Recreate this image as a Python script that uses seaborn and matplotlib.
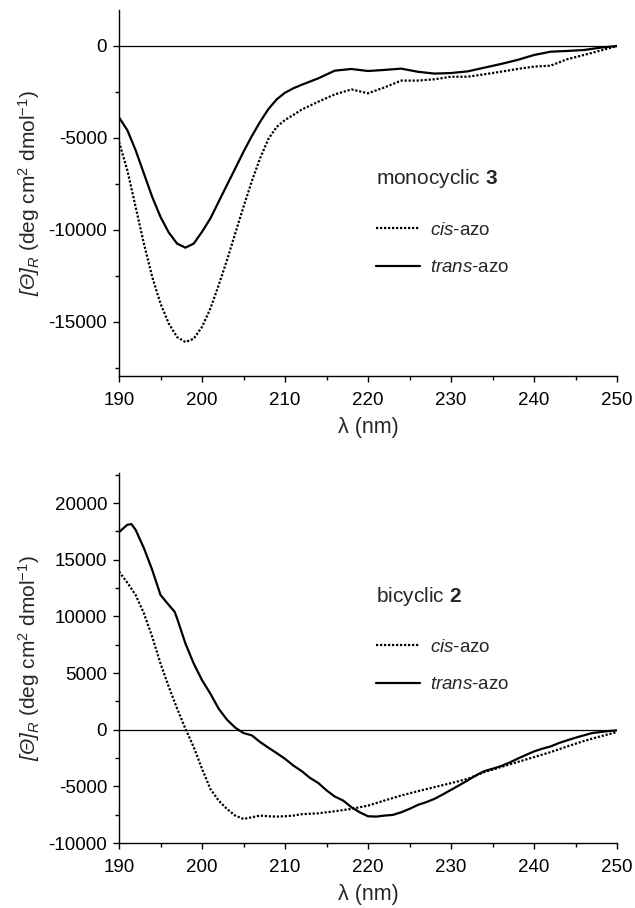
import numpy as np
import pandas as pd
import matplotlib
matplotlib.use("Agg")
import matplotlib.pyplot as plt
import seaborn as sns

# ---------------- data ----------------
# top panel: monocyclic 3
mono_trans_wl = [190, 191, 192, 193, 194, 195, 196, 197, 198, 199, 200, 201, 202, 203, 204, 205,
                 206, 207, 208, 209, 210, 211, 212, 214, 216, 218, 220, 222, 224, 226, 228, 230,
                 232, 234, 236, 238, 240, 242, 244, 246, 248, 250]
mono_trans_val = [-3880, -4570, -5660, -6930, -8200, -9290, -10140, -10740, -10960, -10740, -10100,
                  -9380, -8470, -7560, -6660, -5750, -4900, -4120, -3430, -2900, -2540, -2300, -2110,
                  -1760, -1340, -1250, -1360, -1300, -1230, -1400, -1500, -1470, -1380, -1180, -980,
                  -760, -490, -310, -270, -220, -90, 0]

mono_cis_wl = [190, 191, 192, 193, 194, 195, 196, 197, 198, 199, 200, 201, 202, 203, 204, 205,
               206, 207, 208, 209, 210, 211, 212, 214, 216, 218, 220, 222, 224, 226, 228, 230,
               232, 234, 236, 238, 240, 242, 244, 246, 248, 250]
mono_cis_val = [-5210, -6750, -8740, -10740, -12550, -14000, -15090, -15820, -16090, -15910, -15270,
                -14280, -13010, -11650, -10190, -8740, -7350, -6100, -5050, -4400, -4020, -3750, -3460,
                -3030, -2630, -2360, -2570, -2250, -1880, -1880, -1810, -1670, -1670, -1540, -1400,
                -1250, -1120, -1070, -720, -490, -250, 0]

# bottom panel: bicyclic 2
bi_trans_wl = [190, 191, 191.5, 192, 193, 194, 195, 196, 196.7, 197, 198, 199, 200, 201, 202, 203,
               204, 205, 206, 207, 208, 209, 210, 211, 212, 213, 214, 215, 216, 217, 218, 219, 220,
               221, 222, 223, 224, 225, 226, 227, 228, 229, 230, 231, 232, 233, 234, 235, 236, 237,
               238, 239, 240, 241, 242, 243, 244, 245, 246, 247, 248, 249, 250]
bi_trans_val = [17430, 18080, 18140, 17640, 16020, 14100, 11890, 11000, 10410, 9820, 7610, 5840, 4370,
                3190, 1860, 890, 180, -300, -500, -1090, -1590, -2070, -2570, -3160, -3650, -4250,
                -4700, -5350, -5900, -6250, -6840, -7290, -7640, -7670, -7580, -7520, -7290, -6990,
                -6640, -6400, -6110, -5720, -5310, -4900, -4480, -4040, -3660, -3450, -3220, -2920,
                -2570, -2240, -1920, -1680, -1480, -1180, -940, -710, -500, -300, -210, -120, -60]

bi_cis_wl = [190, 191, 192, 193, 194, 195, 196, 197, 198, 199, 200, 201, 202, 203, 204, 205, 206,
             207, 208, 209, 210, 211, 212, 214, 216, 218, 220, 222, 224, 226, 228, 230, 232, 234,
             236, 238, 240, 242, 244, 246, 248, 250]
bi_cis_val = [13950, 12980, 11890, 10270, 8200, 5840, 3780, 1860, 90, -1530, -3450, -5220, -6250,
              -6990, -7580, -7880, -7730, -7580, -7640, -7670, -7640, -7580, -7460, -7380, -7200,
              -6990, -6700, -6250, -5810, -5430, -5070, -4720, -4340, -3750, -3300, -2860, -2420,
              -1980, -1480, -1000, -590, -210]

x_ticks = [190, 200, 210, 220, 230, 240, 250]
top_yticks = [-15000, -10000, -5000, 0]
bot_yticks = [-10000, -5000, 0, 5000, 10000, 15000, 20000]

series_labels = [r"$\mathit{cis}$-azo", r"$\mathit{trans}$-azo"]
panel_titles = [r"monocyclic $\mathbf{3}$", r"bicyclic $\mathbf{2}$"]

# ---------------- style ----------------
sns.set_style("ticks")
plt.rcParams["font.family"] = ["Liberation Sans", "DejaVu Sans"]
plt.rcParams["mathtext.fontset"] = "custom"
plt.rcParams["mathtext.rm"] = "Liberation Sans"
plt.rcParams["mathtext.it"] = "Liberation Sans:italic"
plt.rcParams["mathtext.sf"] = "Liberation Sans:italic"
plt.rcParams["mathtext.bf"] = "Liberation Sans:bold"
plt.rcParams["axes.edgecolor"] = "black"
plt.rcParams["xtick.color"] = "black"
plt.rcParams["ytick.color"] = "black"

W, H = 635, 908
fig = plt.figure(figsize=(W / 100, H / 100), dpi=100)

def fx(px):
    return px / W

def fy(py):
    return 1 - py / H

ax_top = fig.add_axes([fx(119), fy(376), fx(617) - fx(119), fy(10) - fy(376)])
ax_bot = fig.add_axes([fx(119), fy(843), fx(617) - fx(119), fy(473) - fy(843)])

def make_df(wl, val):
    return pd.DataFrame({"wl": wl, "val": val})

dot_style = (0, (1.0, 0.8))

panels = [
    (ax_top, mono_cis_wl, mono_cis_val, mono_trans_wl, mono_trans_val, (-17935, 1956), top_yticks,
     178, 249, panel_titles[0]),
    (ax_bot, bi_cis_wl, bi_cis_val, bi_trans_wl, bi_trans_val, (-10000, 22650), bot_yticks,
     597, 666, panel_titles[1]),
]

ylabel = r"$\mathsf{[Θ]}_{\mathit{R}}$ (deg cm$^{2}$ dmol$^{-1}$)"

for ax, cwl, cval, twl, tval, ylim, yticks, title_y, leg_y, title in panels:
    ax.axhline(0, color="black", lw=0.9, zorder=1)
    sns.lineplot(data=make_df(cwl, cval), x="wl", y="val", ax=ax, color="black", lw=1.6,
                 linestyle=dot_style, label=series_labels[0], sort=False)
    sns.lineplot(data=make_df(twl, tval), x="wl", y="val", ax=ax, color="black", lw=1.6,
                 label=series_labels[1], sort=False)
    ax.set_xlim(190, 250)
    ax.set_ylim(*ylim)
    ax.set_xticks(x_ticks)
    ax.set_xticks(np.arange(195, 250, 10), minor=True)
    ax.set_yticks(yticks)
    ymin_minor = yticks[0] - 2500
    ax.set_yticks([v for v in np.arange(ymin_minor, ylim[1], 5000) if ylim[0] <= v <= ylim[1]],
                  minor=True)
    ax.set_yticklabels([str(v) for v in yticks])
    ax.set_xticklabels([str(v) for v in x_ticks])
    for s in ["top", "right"]:
        ax.spines[s].set_visible(False)
    for s in ["left", "bottom"]:
        ax.spines[s].set_linewidth(1.0)
    ax.tick_params(axis="both", which="major", length=4.5, width=1.0, labelsize=13.5, direction="out")
    ax.tick_params(axis="both", which="minor", length=2.8, width=1.0, direction="out")
    ax.tick_params(axis="x", which="major", pad=7)
    ax.tick_params(axis="y", which="major", pad=4)
    ax.set_xlabel("λ (nm)", fontsize=15.5, labelpad=6)
    ax.set_ylabel(ylabel, fontsize=15, labelpad=5)
    ax.legend(frameon=False, loc="center left", bbox_to_anchor=(fx(376), fy(leg_y)),
              bbox_transform=fig.transFigure, borderpad=0, borderaxespad=0,
              handlelength=2.35, handletextpad=0.55, labelspacing=1.1, fontsize=13.5)
    fig.text(fx(376), fy(title_y), title, fontsize=15, va="center", ha="left")

fig.savefig("out.png", dpi=100)
